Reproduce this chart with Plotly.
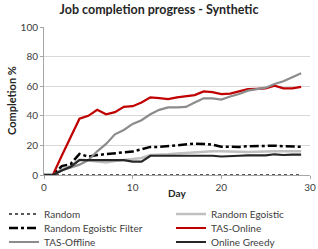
import plotly.graph_objects as go

days = list(range(30))

random_vals = [0] * 30
random_egoistic = [0, 0, 4, 6, 10.5, 10, 9, 8.5, 9.5, 10, 11, 11.5, 13.5, 13.5, 14, 14.5, 15, 15.5, 16, 16,
                   16, 15.8, 15.5, 15.5, 15.7, 16, 16, 16, 16, 16]
random_egoistic_filter = [0, 0, 6, 7.4, 14.2, 12.4, 13.5, 14.2, 14.6, 15.3, 15.8, 17.3, 19, 19, 19.6, 20.3, 20.5,
                          21.2, 21, 20.5, 19.1, 19, 19, 19.4, 19.6, 19.6, 19.8, 19.4, 19.1, 19.1]
tas_online = [0, 0, 13, 26, 38, 40, 44, 41, 42.5, 46, 46.5, 49, 52.5, 52, 51.3, 52.5, 53.4, 54, 56.5, 56,
              54.7, 55, 56.5, 58, 58.2, 58.5, 60.3, 58.5, 58.5, 59.5]
tas_offline = [0, 0, 3, 5, 7, 10, 16, 21, 27.5, 30.4, 34.5, 37, 41, 44, 45.7, 45.7, 46, 49, 51.8, 51.8,
               51, 53, 54.7, 57, 58.2, 59, 61.5, 63.3, 66, 68.7]
online_greedy = [0, 0, 3, 5.5, 10, 10, 10, 9.5, 9.5, 10, 9, 9, 13, 13, 13, 13, 13.2, 13.5, 13.5, 13,
                 12.5, 13, 13, 13.3, 13.3, 13.3, 14, 13.5, 13.7, 13.8]

x_title = "Day"
y_title = "Completion %"
chart_title = "Job completion progress - Synthetic"

series = [
    ("Random", random_vals, dict(color="#595959", width=2, dash="dot")),
    ("Random Egoistic", random_egoistic, dict(color="#c0c0c0", width=2.5)),
    ("Random Egoistic Filter", random_egoistic_filter, dict(color="#000000", width=2.5, dash="dashdot")),
    ("TAS-Online", tas_online, dict(color="#c00000", width=2.2)),
    ("TAS-Offline", tas_offline, dict(color="#8c8c8c", width=2.2)),
    ("Online Greedy", online_greedy, dict(color="#262626", width=2.2)),
]

W, H = 318, 249
font = "Lato, 'Open Sans', sans-serif"

fig = go.Figure()
legends = {}
for i, (name, vals, line) in enumerate(series):
    key = "legend" if i == 0 else f"legend{i + 1}"
    fig.add_trace(go.Scatter(x=days, y=vals, mode="lines", name=name, line=line,
                             cliponaxis=False, legend=key))
    col, row = i % 2, i // 2
    xpix = 4 if col == 0 else 171
    ypix = 214 + row * 14
    legends[key] = dict(orientation="v", xref="container", yref="container", x=xpix / W, y=1 - ypix / H,
                        xanchor="left", yanchor="middle",
                        font=dict(size=10, color="#404040"), tracegroupgap=0,
                        bgcolor="rgba(0,0,0,0)", borderwidth=0)

fig.update_layout(
    width=W, height=H,
    margin=dict(l=44, r=8, t=27, b=74, autoexpand=False),
    paper_bgcolor="white", plot_bgcolor="white",
    font=dict(family=font, size=10, color="#404040"),
    title=dict(text=f"<b>{chart_title}</b>", x=0.5, xanchor="center",
               y=1 - 10 / H, yanchor="middle", font=dict(size=12.5, color="#262626")),
    showlegend=True,
    **legends,
    xaxis=dict(range=[0, 30], tickvals=[0, 10, 20, 30], showgrid=False, showline=True,
               linecolor="#a6a6a6", linewidth=1, ticks="outside", ticklen=3, tickcolor="#a6a6a6",
               zeroline=False, tickfont=dict(size=10, color="#404040")),
    yaxis=dict(range=[0, 100], tickvals=[0, 20, 40, 60, 80, 100], showgrid=True, gridcolor="#d9d9d9",
               showline=True, linecolor="#a6a6a6", linewidth=1, ticks="outside", ticklen=3,
               tickcolor="#a6a6a6", zeroline=False, tickfont=dict(size=10, color="#404040")),
    annotations=[
        dict(text=f"<b>{x_title}</b>", xref="paper", yref="paper", x=0.5, y=-18 / 148,
             xanchor="center", yanchor="middle", showarrow=False, font=dict(size=10, color="#262626")),
        dict(text=f"<b>{y_title}</b>", xref="paper", yref="paper", x=-33 / 266, y=0.5, textangle=-90,
             xanchor="center", yanchor="middle", showarrow=False, font=dict(size=11, color="#262626")),
    ],
)

fig.write_html("out.html", config={"displayModeBar": False},
               post_script="document.body.style.margin='0';document.body.style.overflow='hidden';")
